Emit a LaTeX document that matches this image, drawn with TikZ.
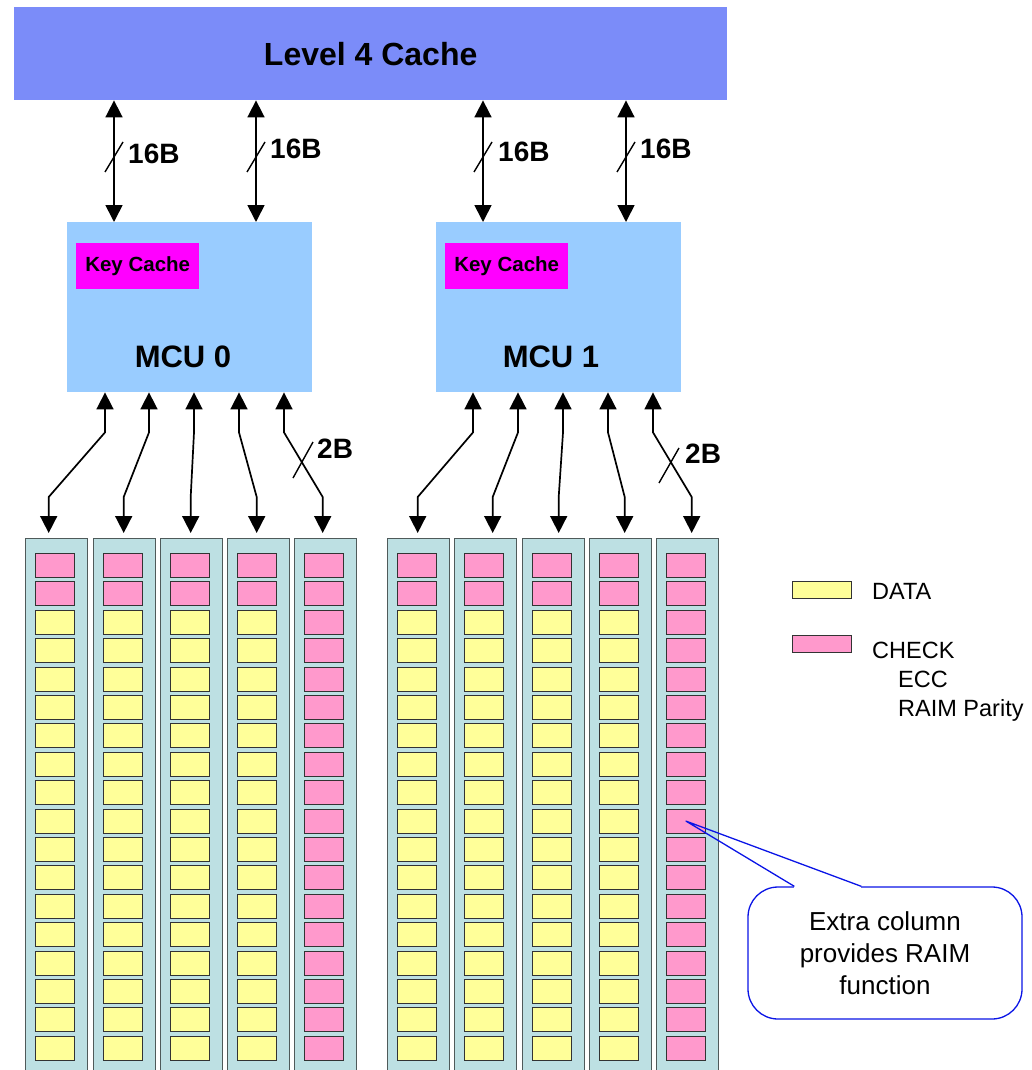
\documentclass[tikz,border=0pt]{standalone}
\usepackage{fontspec}
\setmainfont{Liberation Sans}
\usetikzlibrary{arrows.meta,calc}
\definecolor{lfour}{HTML}{7B8CF9}
\definecolor{mcu}{HTML}{99CCFF}
\definecolor{keyc}{HTML}{FF00FF}
\definecolor{colfill}{HTML}{BDE0E3}
\definecolor{colline}{HTML}{4F5A5A}
\definecolor{ylw}{HTML}{FFFF99}
\definecolor{pnk}{HTML}{FF99CC}
\definecolor{calloutblue}{HTML}{0A14E6}
\begin{document}
\begin{tikzpicture}[x=1pt,y=-1pt,
  l4box/.style={fill=lfour, draw=none, minimum width=713pt, minimum height=93pt, anchor=north west, inner sep=0pt},
  mcubox/.style={fill=mcu, draw=none, minimum width=245pt, minimum height=170pt, anchor=north west, inner sep=0pt},
  keybox/.style={fill=keyc, draw=none, minimum width=123pt, minimum height=46pt, anchor=north west, inner sep=0pt, font=\fontsize{20.5}{24}\selectfont\bfseries},
  colbox/.style={fill=colfill, draw=colline, line width=1.4pt, minimum width=62pt, minimum height=532pt, anchor=north west, inner sep=0pt},
  cellbox/.style={draw=black!80, line width=1pt, minimum width=39pt, minimum height=24pt, anchor=north west, inner sep=0pt},
  bus/.style={line width=1.7pt, {Triangle[width=17pt,length=17pt]}-{Triangle[width=17pt,length=17pt]}},
  slash/.style={line width=1.4pt},
  buslabel/.style={font=\fontsize{28}{32}\selectfont\bfseries, anchor=base west, inner sep=0pt},
  mculabel/.style={font=\fontsize{31}{36}\selectfont\bfseries, inner sep=0pt},
  legendtext/.style={font=\fontsize{23.5}{28}\selectfont, anchor=base west, inner sep=0pt},
  legendbox/.style={draw=black!80, line width=1pt, minimum width=59pt, minimum height=17pt, anchor=north west, inner sep=0pt},
  calloutbox/.style={draw=calloutblue, fill=white, line width=1.3pt, rounded corners=30pt, minimum width=274pt, minimum height=132pt, align=center, font=\fontsize{26}{32}\selectfont}
]
\useasboundingbox (0,0) rectangle (1031,1070);

% Level 4 cache
\node[l4box] (l4) at (14,7) {};
\node[font=\fontsize{32}{38}\selectfont\bfseries] (l4t) at (l4.center) {Level 4 Cache};

% MCUs
\node[mcubox] (mcu0) at (67,222) {};
\node[mcubox] (mcu1) at (436,222) {};
\node[keybox] (key0) at (76,243) {Key Cache};
\node[keybox] (key1) at (445,243) {Key Cache};
\node[mculabel] (mcu0t) at (183,357) {MCU 0};
\node[mculabel] (mcu1t) at (551,357) {MCU 1};

% top buses
\draw[bus] ([xshift=100pt]l4.south west) -- ([xshift=47pt]mcu0.north west);
\draw[bus] ([xshift=242pt]l4.south west) -- ([xshift=189pt]mcu0.north west);
\draw[bus] ([xshift=469pt]l4.south west) -- ([xshift=47pt]mcu1.north west);
\draw[bus] ([xshift=612pt]l4.south west) -- ([xshift=190pt]mcu1.north west);
\draw[slash] (105,172) -- (123,142);
\draw[slash] (247,172) -- (265,142);
\draw[slash] (474,172) -- (492,142);
\draw[slash] (617,172) -- (635,142);
\node[buslabel] (b1) at (128,163) {16B};
\node[buslabel] (b2) at (270,158) {16B};
\node[buslabel] (b3) at (498,161) {16B};
\node[buslabel] (b4) at (640,158) {16B};

% memory columns
\foreach \x [count=\i] in {25,93,160,227,294} {
  \node[colbox] (c0-\i) at (\x,538) {};
  \foreach \r in {1,...,18} {
    \def\cc{ylw}
    \ifnum\r<3 \def\cc{pnk}\fi
    \ifnum\i=5 \def\cc{pnk}\fi
    \node[cellbox, fill=\cc] (c0-\i-\r) at ({\x+10},{553+28.4*(\r-1)}) {};
  }
}
\foreach \x [count=\i] in {387,454,522,589,656} {
  \node[colbox] (c1-\i) at (\x,538) {};
  \foreach \r in {1,...,18} {
    \def\cc{ylw}
    \ifnum\r<3 \def\cc{pnk}\fi
    \ifnum\i=5 \def\cc{pnk}\fi
    \node[cellbox, fill=\cc] (c1-\i-\r) at ({\x+10},{553+28.4*(\r-1)}) {};
  }
}

% lower buses
\foreach \i/\off/\b in {1/38/-8,2/82/-1,3/127/-1,4/172/-2,5/217/-3} {
  \draw[bus, shorten >=5pt] ([xshift=\off pt]mcu0.south west) -- ++(0,40)
     -- ([yshift=41pt,xshift=\b pt]c0-\i.north) -- ([xshift=\b pt]c0-\i.north);
}
\foreach \i/\off/\b in {1/37/-1,2/82/7,3/127/5,4/172/4,5/217/4} {
  \draw[bus, shorten >=5pt] ([xshift=\off pt]mcu1.south west) -- ++(0,40)
     -- ([yshift=41pt,xshift=\b pt]c1-\i.north) -- ([xshift=\b pt]c1-\i.north);
}
\draw[slash] (293,478) -- (313,442);
\draw[slash] (659,483) -- (679,448);
\node[buslabel] (l2b0) at (317,458) {2B};
\node[buslabel] (l2b1) at (685,463) {2B};

% legend
\node[legendbox, fill=ylw] (legd) at (792,581) {};
\node[legendbox, fill=pnk] (legc) at (792,635) {};
\node[legendtext] (tdata) at (872,599) {DATA};
\node[legendtext] (tcheck) at (872,658) {CHECK};
\node[legendtext] (tecc) at (898,687) {ECC};
\node[legendtext] (traim) at (898,716) {RAIM Parity};

% callout
\node[calloutbox] (note) at (885,953) {Extra column\\provides RAIM\\function};
\coordinate (tip) at (c1-5-10.center);
\coordinate (pb1) at ([xshift=47pt]note.north west);
\coordinate (pb2) at ([xshift=114pt]note.north west);
\draw[white, line width=3pt] (pb1) -- (pb2);
\draw[calloutblue, line width=1.3pt, line join=round] (pb1) -- (tip) -- (pb2);
\end{tikzpicture}
\end{document}
